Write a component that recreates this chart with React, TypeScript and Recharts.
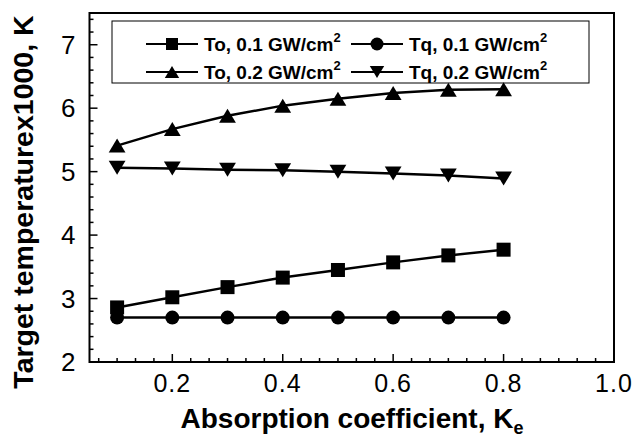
import React from 'react';
import { LineChart, Line, XAxis, YAxis, ReferenceArea, Customized } from 'recharts';

const ke = [0.1, 0.2, 0.3, 0.4, 0.5, 0.6, 0.7, 0.8];
const to01 = [2.86, 3.02, 3.18, 3.33, 3.45, 3.57, 3.68, 3.77];
const tq01 = [2.7, 2.7, 2.7, 2.7, 2.7, 2.7, 2.7, 2.7];
const to02 = [5.41, 5.67, 5.88, 6.04, 6.15, 6.24, 6.29, 6.3];
const tq02 = [5.06, 5.05, 5.03, 5.02, 5.0, 4.97, 4.94, 4.89];

const xTicks = Array.from({ length: 29 }, (_, i) => (i + 2) / 30);
const yTicks = Array.from({ length: 28 }, (_, i) => (i + 10) / 5);

const data = ke.map((k, i) => ({ k, to01: to01[i], tq01: tq01[i], to02: to02[i], tq02: tq02[i] }));

const FONT = '"Liberation Sans", Arial, Helvetica, sans-serif';

type Shape = 'square' | 'circle' | 'up' | 'down';

function marker(shape: Shape, cx: number, cy: number, s: number, key?: any) {
  const h = s / 2;
  if (shape === 'square') return <rect key={key} x={cx - h} y={cy - h} width={s} height={s} fill="#000" />;
  if (shape === 'circle') return <circle key={key} cx={cx} cy={cy} r={h + 0.5} fill="#000" />;
  const w = (s * 1.2) / 2;
  const hh = s / 2;
  if (shape === 'up')
    return <polygon key={key} points={`${cx},${cy - hh} ${cx - w},${cy + hh} ${cx + w},${cy + hh}`} fill="#000" />;
  return <polygon key={key} points={`${cx},${cy + hh} ${cx - w},${cy - hh} ${cx + w},${cy - hh}`} fill="#000" />;
}

const makeDot = (shape: Shape, s: number) => (props: any) => {
  const { cx, cy, index } = props;
  if (cx == null || cy == null) return <g key={index} />;
  return marker(shape, cx, cy, s, index);
};

const isMajor = (v: number, step: number) => Math.abs(v / step - Math.round(v / step)) < 1e-6;

const XTick = (props: any) => {
  const { x, y, payload } = props;
  const v = payload.value;
  const major = isMajor(v, 0.2);
  return (
    <g>
      <line x1={x} x2={x} y1={y} y2={y - (major ? 8 : 4)} stroke="#000" strokeWidth={1.5} />
      {major && (
        <text x={x} y={y + 30} textAnchor="middle" fontFamily={FONT} fontSize={25} letterSpacing={1} fill="#000">
          {v.toFixed(1)}
        </text>
      )}
    </g>
  );
};

const YTick = (props: any) => {
  const { x, y, payload } = props;
  const v = payload.value;
  const major = isMajor(v, 1);
  return (
    <g>
      <line x1={x} x2={x + (major ? 8 : 4)} y1={y} y2={y} stroke="#000" strokeWidth={1.5} />
      {major && (
        <text x={x - 14} y={y + 9} textAnchor="end" fontFamily={FONT} fontSize={26} fill="#000">
          {Math.round(v)}
        </text>
      )}
    </g>
  );
};

const legendItems: { shape: Shape; label: string; col: number; row: number }[] = [
  { shape: 'square', label: 'To, 0.1 GW/cm', col: 0, row: 0 },
  { shape: 'circle', label: 'Tq, 0.1 GW/cm', col: 1, row: 0 },
  { shape: 'up', label: 'To, 0.2 GW/cm', col: 0, row: 1 },
  { shape: 'down', label: 'Tq, 0.2 GW/cm', col: 1, row: 1 },
];

const LegendBox = () => {
  const colX = [146, 351];
  const rowY = [44, 72];
  return (
    <g>
      <rect x={112} y={21} width={477} height={62} fill="#fff" stroke="#000" strokeWidth={1} />
      {legendItems.map((it, i) => {
        const x0 = colX[it.col];
        const y0 = rowY[it.row];
        return (
          <g key={i}>
            <line x1={x0} x2={x0 + 52} y1={y0} y2={y0} stroke="#000" strokeWidth={2} />
            {marker(it.shape, x0 + 26, y0, 12)}
            <text x={x0 + 58} y={y0 + 7} fontFamily={FONT} fontSize={19} fontWeight="bold" fill="#000">
              {it.label}
              <tspan dy={-9} fontSize={13}>2</tspan>
            </text>
          </g>
        );
      })}
    </g>
  );
};

const Titles = () => (
  <g>
    <text x={352} y={428} textAnchor="middle" fontFamily={FONT} fontSize={28} fontWeight="bold" fill="#000">
      Absorption coefficient, K
      <tspan dy={6} fontSize={18}>e</tspan>
    </text>
    <text
      transform="translate(33,202) rotate(-90)"
      textAnchor="middle"
      fontFamily={FONT}
      fontSize={28.5}
      fontWeight="bold"
      fill="#000"
    >
      Target temperaturex1000, K
    </text>
  </g>
);

export default function App() {
  return (
    <div style={{ position: 'absolute', left: 0, top: 0, width: 635, height: 437, background: '#fff' }}>
      <LineChart width={635} height={437} data={data} margin={{ top: 13, right: 21, bottom: 0, left: 0 }}>
        <XAxis
          dataKey="k"
          type="number"
          domain={[0.05, 1.0]}
          ticks={xTicks}
          interval={0}
          allowDataOverflow
          height={75}
          tickSize={0}
          tickMargin={0}
          tickLine={false}
          axisLine={false}
          tick={<XTick />}
        />
        <YAxis
          type="number"
          domain={[2, 7.5]}
          ticks={yTicks}
          interval={0}
          allowDataOverflow
          width={89.5}
          tickSize={0}
          tickMargin={0}
          tickLine={false}
          axisLine={false}
          tick={<YTick />}
        />
        <ReferenceArea x1={0.05} x2={1.0} y1={2} y2={7.5} fill="none" stroke="#000" strokeWidth={2} ifOverflow="visible" />
        <Line type="linear" dataKey="to01" stroke="#000" strokeWidth={2.5} dot={makeDot('square', 14)} isAnimationActive={false} />
        <Line type="linear" dataKey="tq01" stroke="#000" strokeWidth={2.5} dot={makeDot('circle', 13)} isAnimationActive={false} />
        <Line type="linear" dataKey="to02" stroke="#000" strokeWidth={2.5} dot={makeDot('up', 14)} isAnimationActive={false} />
        <Line type="linear" dataKey="tq02" stroke="#000" strokeWidth={2.5} dot={makeDot('down', 14)} isAnimationActive={false} />
        <Customized component={LegendBox} />
        <Customized component={Titles} />
      </LineChart>
    </div>
  );
}
